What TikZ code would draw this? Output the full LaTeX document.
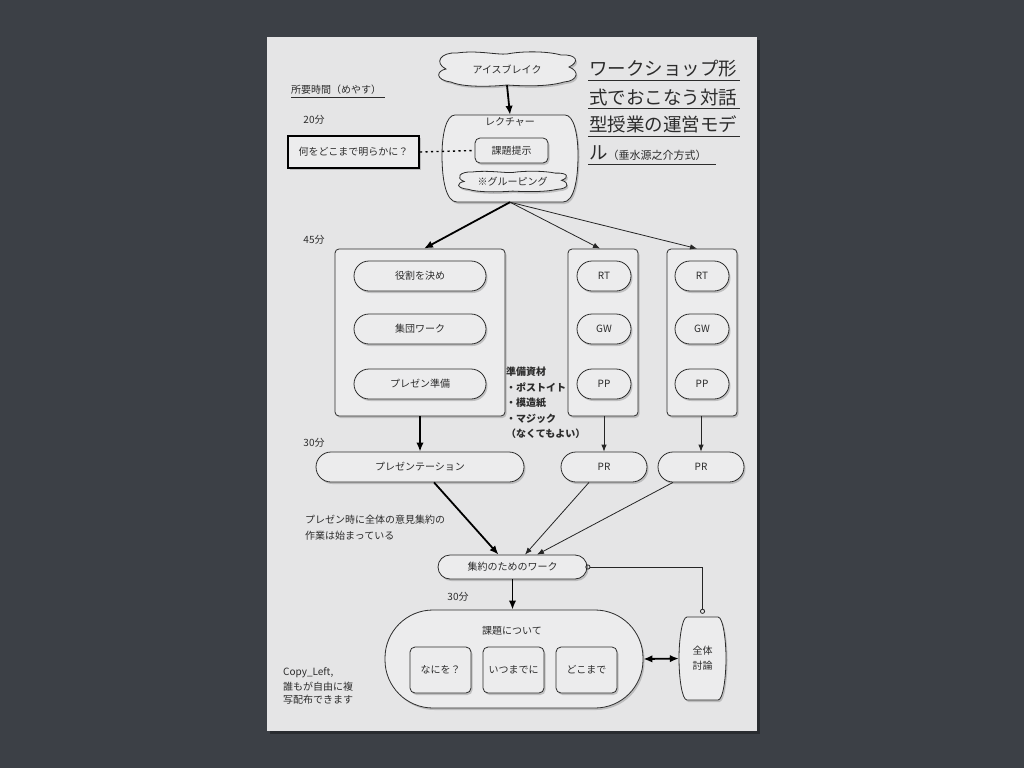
\documentclass[tikz,border=0pt]{standalone}
\usepackage{fontspec}
\setmainfont{Noto Sans CJK JP}
\usetikzlibrary{shapes.misc,shadows,arrows.meta,calc}
\definecolor{board}{HTML}{3C4046}
\definecolor{paper}{HTML}{E5E5E6}
\definecolor{nodefill}{HTML}{ECECED}
\definecolor{ink}{HTML}{2C2C2C}
\newcommand{\cloudpath}{(-50,-16) .. controls (-30,-19) and (-10,-14) .. (0,-15)
  .. controls (15,-18) and (40,-18) .. (54,-14)
  .. controls (70,-15) and (73,-7) .. (62,-2)
  .. controls (73,2) and (71,12) .. (57,13)
  .. controls (40,18) and (15,17) .. (0,16)
  .. controls (-20,18) and (-45,18) .. (-56,13)
  .. controls (-72,11) and (-71,2) .. (-61,0)
  .. controls (-73,-6) and (-67,-17) .. (-50,-16) -- cycle}
\begin{document}
\begin{tikzpicture}[x=1pt,y=-1pt,
  font=\fontsize{10}{12}\selectfont, text=ink,
  shad/.style={drop shadow={opacity=0.4,shadow xshift=1.5pt,shadow yshift=-2pt}},
  base/.style={draw=ink, fill=nodefill, line width=0.8pt, shad, inner sep=0pt},
  pill/.style={base, rounded corners=15pt, minimum height=30pt},
  smallpill/.style={base, rounded corners=12pt, minimum height=24pt},
  colbox/.style={base, rounded corners=4pt, minimum height=167pt},
  sqbox/.style={base, rounded corners=5pt, minimum width=61pt, minimum height=46pt},
  plain/.style={inner sep=0pt, text=ink},
  thickarrow/.style={draw=black, line width=1.8pt, -{Latex[length=9pt,width=7.5pt]}},
  thinarrow/.style={draw=black!85, line width=0.8pt, -{Latex[length=7pt,width=5.5pt]}},
  dblarrow/.style={draw=black, line width=1.8pt, {Latex[length=9pt,width=7.5pt]}-{Latex[length=9pt,width=7.5pt]}},
  circline/.style={draw=black!85, line width=0.8pt, {Circle[open,length=5pt,width=5pt]}-{Circle[open,length=5pt,width=5pt]}},
  dotline/.style={draw=black, line width=1.4pt, dash pattern=on 2.2pt off 3.3pt},
  uline/.style={draw=ink, line width=1pt}
]
\useasboundingbox (0,0) rectangle (1024,768);
\fill[board] (0,0) rectangle (1024,768);
\fill[black, opacity=0.3] (270,40) rectangle (760,734);
\fill[paper] (267,37) rectangle (757,731);

% title
\begin{scope}[font=\fontsize{18.5}{20}\selectfont]
\node[plain, anchor=west] (t1) at (589,69) {ワークショップ形};
\node[plain, anchor=west] (t2) at (589,97) {式でおこなう対話};
\node[plain, anchor=west] (t3) at (589,124) {型授業の運営モデ};
\node[plain, anchor=west] (t4) at (589,153) {ル\fontsize{11}{12}\selectfont（垂水源之介方式）};
\end{scope}
\draw[uline] (588,80) -- (740,80);
\draw[uline] (588,108) -- (740,108);
\draw[uline] (588,136) -- (740,136);
\draw[uline] (588,164) -- (716,164);

% time labels
\node[plain, anchor=west] (yasu) at (291,90) {所要時間（めやす）};
\draw[uline, line width=0.8pt] (291,97) -- (385,97);
\node[plain] (m20) at (314,120) {20分};
\node[plain] (m45) at (314,240) {45分};
\node[plain] (m30a) at (314,443) {30分};
\node[plain] (m30b) at (458,597) {30分};

% top
\begin{scope}[shift={(507,69)}]
\draw[base] \cloudpath;
\end{scope}
\node[plain, minimum width=140pt, minimum height=32pt] (ice) at (507,69) {アイスブレイク};
\draw[base] (455,115) -- (565,115) .. controls (574,115) and (578,135) .. (578,155)
  .. controls (578,180) and (574,202) .. (563,202) -- (457,202)
  .. controls (446,202) and (442,180) .. (442,155)
  .. controls (442,135) and (446,115) .. (455,115) -- cycle;
\node[inner sep=0pt, minimum width=134pt, minimum height=87pt] (lec) at (510,158.5) {};
\node[plain] (leclbl) at (510,122) {レクチャー};
\node[base, rounded corners=5pt, minimum width=73pt, minimum height=25pt] (kt) at (511.5,150.5) {課題提示};
\begin{scope}[shift={(512.5,181.5)}, xscale=0.79, yscale=0.6]
\draw[base] \cloudpath;
\end{scope}
\node[plain, minimum width=110pt, minimum height=19pt] (grp) at (512.5,181.5) {※グルーピング};
\node[base, draw=black, line width=2pt, minimum width=131pt, minimum height=32pt] (q) at (353.5,152) {何をどこまで明らかに？};

% middle
\node[colbox, minimum width=170pt] (big) at (420,332.5) {};
\node[colbox, minimum width=70pt] (col1) at (603,332.5) {};
\node[colbox, minimum width=70pt] (col2) at (702,332.5) {};
\node[pill, minimum width=132pt] (yaku) at (420,276) {役割を決め};
\node[pill, minimum width=132pt] (shu) at (420,329) {集団ワーク};
\node[pill, minimum width=132pt] (pzb) at (420,384) {プレゼン準備};
\node[pill, minimum width=54pt] (rt1) at (604,276) {RT};
\node[pill, minimum width=54pt] (gw1) at (604,329) {GW};
\node[pill, minimum width=54pt] (pp1) at (604,384) {PP};
\node[pill, minimum width=54pt] (rt2) at (702,276) {RT};
\node[pill, minimum width=54pt] (gw2) at (702,329) {GW};
\node[pill, minimum width=54pt] (pp2) at (702,384) {PP};
\node[plain, anchor=north west, align=left, font=\bfseries\fontsize{10}{15.5}\selectfont] (mat) at (506,367)
  {準備資材\\・ポストイト\\・模造紙\\・マジック\\（なくてもよい）};

\node[pill, minimum width=208pt] (pres) at (420,467) {プレゼンテーション};
\node[pill, minimum width=86pt] (pr1) at (604,467) {PR};
\node[pill, minimum width=86pt] (pr2) at (701,467) {PR};
\node[plain, anchor=west] (note1) at (305,520) {プレゼン時に全体の意見集約の};
\node[plain, anchor=west] (note2) at (305,536) {作業は始まっている};

% bottom
\node[smallpill, minimum width=149pt] (syu) at (512.5,567) {集約のためのワーク};
\node[base, rounded corners=48pt, minimum width=258pt, minimum height=98pt] (kadai) at (514,659) {};
\node[plain] (kadlbl) at (512,631) {課題について};
\node[sqbox] (nani) at (440.5,670) {なにを？};
\node[sqbox] (itsu) at (513.5,670) {いつまでに};
\node[sqbox] (doko) at (586.5,670) {どこまで};
\draw[base] (687,617) -- (718,617) .. controls (723,617) and (726,640) .. (726,658)
  .. controls (726,678) and (723,700) .. (718,700) -- (687,700)
  .. controls (682,700) and (679,678) .. (679,658)
  .. controls (679,640) and (682,617) .. (687,617) -- cycle;
\node[plain, align=center, font=\fontsize{10}{15}\selectfont, minimum width=47pt, minimum height=83pt] (zen) at (702.5,658.5) {全体\\討論};

\node[plain, anchor=west] (cl1) at (283,673) {Copy\_Left,};
\node[plain, anchor=west] (cl2) at (283,687) {誰もが自由に複};
\node[plain, anchor=west] (cl3) at (283,700) {写配布できます};

% connectors
\draw[dotline] (q.east) -- (kt.west);
\draw[thickarrow] (ice.south) -- (lec.north);
\draw[thickarrow] (lec.south) -- ($(big.north)+(4,0)$);
\draw[thinarrow] (lec.south) -- ($(col1.north)+(-3,0)$);
\draw[thinarrow] (lec.south) -- ($(col2.north)+(-5,0)$);
\draw[thickarrow] (big.south) -- (pres.north);
\draw[thinarrow] (col1.south -| pr1.north) -- (pr1.north);
\draw[thinarrow] (col2.south -| pr2.north) -- (pr2.north);
\draw[thickarrow] ($(pres.south)+(14,0)$) -- ($(syu.north)+(-14,0)$);
\draw[thinarrow] ($(pr1.south)+(-15,0)$) -- ($(syu.north)+(12.5,0)$);
\draw[thinarrow] ($(pr2.south)+(-28,0)$) -- ($(syu.north)+(24.5,0)$);
\draw[thickarrow] (syu.south) -- (syu.south |- kadai.north);
\draw[circline] ($(syu.east)+(-2,0)$) -| ($(zen.north)+(0,-3)$);
\draw[dblarrow] (kadai.east) -- (zen.west);
\end{tikzpicture}
\end{document}
